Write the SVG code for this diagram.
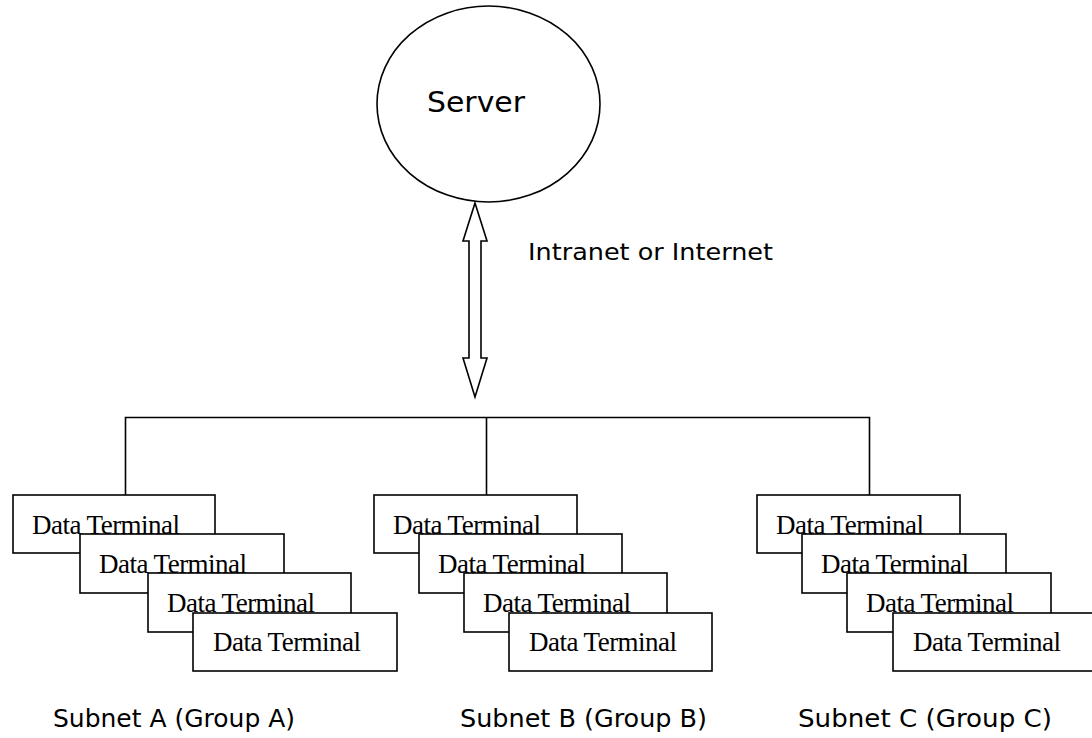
<svg xmlns="http://www.w3.org/2000/svg" width="1092" height="738" viewBox="0 0 1092 738">
<style>
.ln{fill:none;stroke:#000;stroke-width:1.6}
.box{fill:#fff;stroke:#000;stroke-width:1.6}
.dt{font-family:"Liberation Serif","Times New Roman",serif;font-size:27px;fill:#000}
.sans{font-family:"DejaVu Sans","Liberation Sans",sans-serif;fill:#000}
</style>
<rect width="1092" height="738" fill="#fff"/>
<g id="server">
<ellipse cx="488.5" cy="104" rx="111.5" ry="98" class="box"/>
<text x="427" y="112" class="sans" font-size="28" textLength="98" lengthAdjust="spacingAndGlyphs">Server</text>
</g>
<g id="connectors">
<polygon points="475,203 487,241 481,241 481,358 487,358 475,397 463,358 469,358 469,241 463,241" class="box"/>
<polyline points="125.5,495 125.5,417.5 869.5,417.5 869.5,495" class="ln"/>
<line x1="486.5" y1="417.5" x2="486.5" y2="495" class="ln"/>
</g>
<g id="link-label">
<text x="528" y="260" class="sans" font-size="23" textLength="245" lengthAdjust="spacingAndGlyphs">Intranet or Internet</text>
</g>
<g id="subnetA">
<g id="a1"><rect x="13" y="495" width="202" height="58" class="box"/><text x="32" y="534" class="dt" textLength="148">Data Terminal</text></g>
<g id="a2"><rect x="80" y="534" width="204" height="59" class="box"/><text x="99" y="573" class="dt" textLength="148">Data Terminal</text></g>
<g id="a3"><rect x="148" y="573" width="203" height="59" class="box"/><text x="167" y="612" class="dt" textLength="148">Data Terminal</text></g>
<g id="a4"><rect x="193" y="613" width="204" height="58" class="box"/><text x="213" y="651" class="dt" textLength="148">Data Terminal</text></g>
<text x="53" y="727" class="sans" font-size="25" textLength="242" lengthAdjust="spacingAndGlyphs">Subnet A (Group A)</text>
</g>
<g id="subnetB">
<g id="b1"><rect x="374" y="495" width="203" height="58" class="box"/><text x="393" y="534" class="dt" textLength="148">Data Terminal</text></g>
<g id="b2"><rect x="419" y="534" width="203" height="59" class="box"/><text x="438" y="573" class="dt" textLength="148">Data Terminal</text></g>
<g id="b3"><rect x="464" y="573" width="203" height="59" class="box"/><text x="483" y="612" class="dt" textLength="148">Data Terminal</text></g>
<g id="b4"><rect x="509" y="613" width="203" height="58" class="box"/><text x="529" y="651" class="dt" textLength="148">Data Terminal</text></g>
<text x="460" y="727" class="sans" font-size="25" textLength="247" lengthAdjust="spacingAndGlyphs">Subnet B (Group B)</text>
</g>
<g id="subnetC">
<g id="c1"><rect x="757" y="495" width="203" height="58" class="box"/><text x="776" y="534" class="dt" textLength="148">Data Terminal</text></g>
<g id="c2"><rect x="802" y="534" width="204" height="59" class="box"/><text x="821" y="573" class="dt" textLength="148">Data Terminal</text></g>
<g id="c3"><rect x="847" y="573" width="204" height="59" class="box"/><text x="866" y="612" class="dt" textLength="148">Data Terminal</text></g>
<g id="c4"><rect x="893" y="613" width="204" height="58" class="box"/><text x="913" y="651" class="dt" textLength="148">Data Terminal</text></g>
<text x="798" y="727" class="sans" font-size="25" textLength="254" lengthAdjust="spacingAndGlyphs">Subnet C (Group C)</text>
</g>
</svg>
